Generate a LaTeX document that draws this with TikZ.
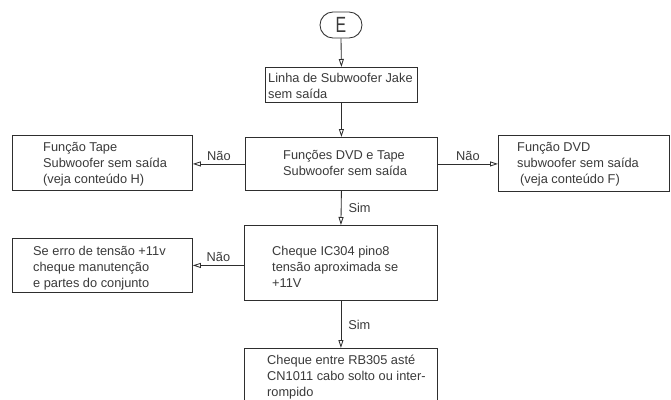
\documentclass[tikz,border=0pt]{standalone}
\usepackage{fontspec}
\setmainfont{Liberation Sans}
\usetikzlibrary{arrows.meta}
\definecolor{ink}{HTML}{2E2E2E}
\definecolor{txtc}{HTML}{3A3A3A}
\begin{document}
\begin{tikzpicture}[x=1pt,y=-1pt,
  box/.style={draw=ink, line width=0.85pt, inner sep=0pt, anchor=north west},
  term/.style={draw=ink, line width=0.85pt, rounded corners=13pt, minimum width=42pt,
    minimum height=26pt, inner sep=0pt, text=txtc, font=\fontsize{22}{22}\selectfont},
  txt/.style={inner sep=0pt, anchor=west, align=left, text=txtc,
    font=\fontsize{12.8}{16}\selectfont},
  lbl/.style={inner sep=0pt, text=txtc, font=\fontsize{12.8}{16}\selectfont},
  arr/.style={draw=ink, line width=0.85pt, -{Triangle[open,length=8pt,width=5pt]}}
]
\useasboundingbox (0,0) rectangle (671,399);
\fill[white] (0,0) rectangle (671,399);

% terminator
\node[term] (E) at (341,25) {\scalebox{0.72}[1]{E}};

% boxes
\node[box, minimum width=152pt, minimum height=35pt] (b1) at (265,67) {};
\node[box, minimum width=192pt, minimum height=53pt] (b2) at (245,137) {};
\node[box, minimum width=180pt, minimum height=55pt] (lb1) at (12,135) {};
\node[box, minimum width=171pt, minimum height=56pt] (rb1) at (498,135) {};
\node[box, minimum width=193pt, minimum height=75pt] (b3) at (244,225) {};
\node[box, minimum width=180pt, minimum height=54pt] (lb2) at (12,238) {};
\node[box, minimum width=193pt, minimum height=70pt] (b4) at (244,348) {};

% texts
\node[txt] (t1) at (268,87) {\strut Linha de Subwoofer Jake\\sem saída\strut};
\node[txt] (t2) at (283,164.5) {\strut Funções DVD e Tape\\Subwoofer sem saída\strut};
\node[txt] (tl1) at (43,164.7) {\strut Função Tape\\Subwoofer sem saída\\(veja conteúdo H)\strut};
\node[txt] (tr1) at (517,164) {\strut Função DVD\\subwoofer sem saída\\\hspace*{3pt}(veja conteúdo F)\strut};
\node[txt] (tl2) at (33,268.4) {\strut Se erro de tensão +11v\\cheque manutenção\\e partes do conjunto\strut};
\node[txt] (t3) at (272,268) {\strut Cheque IC304 pino8\\tensão aproximada se\\+11V\strut};
\node[txt] (t4) at (267,377.7) {\strut Cheque entre RB305 asté\\CN1011 cabo solto ou inter-\\rompido\strut};

% connectors
\draw[arr] (E.south) -- (b1.north);
\draw[arr] (b1.south) -- (b2.north);
\draw[arr] (b2.west) -- node[lbl, midway, above=3pt] {Não} (b2.west -| lb1.east);
\draw[arr] (b2.east) -- node[lbl, midway, above=3pt] {Não} (b2.east -| rb1.west);
\draw[arr] (b2.south) -- node[lbl, midway, right=7pt] {Sim} (b3.north);
\draw[arr] (lb2.east -| b3.west) -- node[lbl, midway, above=3pt] {Não} (lb2.east);
\draw[arr] (b3.south) -- node[lbl, midway, right=7pt] {Sim} (b4.north);
\end{tikzpicture}
\end{document}
